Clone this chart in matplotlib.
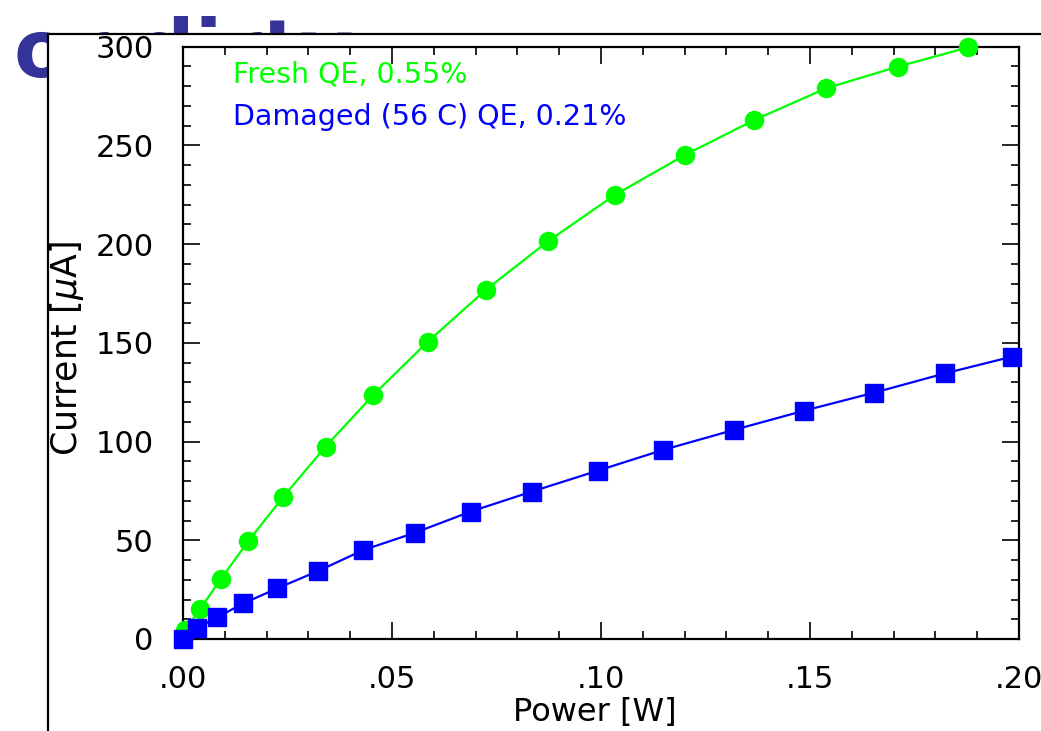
#============================================================
import matplotlib
matplotlib.use("Agg")
import matplotlib.pyplot as plt
from matplotlib.patches import Rectangle
#============================================================
# values
fresh_power = [0.0, 0.0005, 0.0041, 0.0090, 0.0156, 0.0240, 0.0341, 0.0455, 0.0585,
               0.0724, 0.0874, 0.1033, 0.1200, 0.1367, 0.1538, 0.1710, 0.1879]
fresh_current = [0.0, 4.5, 15.2, 30.2, 49.5, 72.0, 97.4, 123.5, 150.4,
                 176.7, 201.5, 224.8, 245.0, 262.8, 278.8, 289.8, 299.6]

damaged_power = [0.0, 0.0033, 0.0082, 0.0144, 0.0226, 0.0323, 0.0431, 0.0555, 0.0688,
                 0.0834, 0.0992, 0.1148, 0.1317, 0.1486, 0.1653, 0.1823, 0.1984]
damaged_current = [0.0, 5.4, 11.0, 18.0, 25.7, 34.4, 45.0, 53.8, 64.5,
                   74.6, 85.2, 95.7, 105.8, 115.6, 124.7, 134.5, 143.0]

x_ticks = [0.0, 0.05, 0.10, 0.15, 0.20]
x_tick_labels = [".00", ".05", ".10", ".15", ".20"]
y_ticks = [0, 50, 100, 150, 200, 250, 300]

fresh_label = "Fresh QE, 0.55%"
damaged_label = "Damaged (56 C) QE, 0.21%"
title_text = "or dirty"
#============================================================
W, H = 1041, 731
fig = plt.figure(figsize=(W / 100, H / 100), dpi=100)
fig.patch.set_facecolor("white")

# slide title sitting behind the pasted plot
fig.text(14 / W, 1 - 77 / H, title_text, color="#333399", fontsize=58,
         fontweight="bold", ha="left", va="baseline", zorder=0.1)

# white pasted image with black left/top border
fig.patches.append(Rectangle((48 / W, -0.2), 1.2, 1 - 34 / H + 0.2,
                             transform=fig.transFigure, facecolor="white",
                             edgecolor="black", linewidth=1.6, zorder=0.5))

ax = fig.add_axes([183 / W, (H - 639) / H, 836 / W, 592.5 / H])
ax.set_zorder(1)

ax.plot(fresh_power, fresh_current, color="#00ff00", linewidth=1.6,
        marker="o", markersize=13, clip_on=False, zorder=3)
ax.plot(damaged_power, damaged_current, color="#0000ff", linewidth=1.6,
        marker="s", markersize=13.5, clip_on=False, zorder=4)

ax.set_xlim(0, 0.2)
ax.set_ylim(0, 300)
ax.set_xticks(x_ticks, x_tick_labels)
ax.set_yticks(y_ticks)
ax.set_xticks([i * 0.01 for i in range(21)], minor=True)
ax.set_yticks(list(range(0, 301, 10)), minor=True)

ax.tick_params(which="both", direction="in", top=True, right=True, width=1.2)
ax.tick_params(which="major", length=12)
ax.tick_params(which="minor", length=6)
ax.tick_params(axis="x", which="major", labelsize=22, pad=19)
ax.tick_params(axis="y", which="major", labelsize=22, pad=21)
for s in ax.spines.values():
    s.set_linewidth(1.6)

ax.set_xlabel("Power [W]", fontsize=23)
ax.xaxis.label.set_va("center")
ax.xaxis.set_label_coords((595 - 183) / 836, -(713 - 639) / 592.5)
ax.set_ylabel(r"Current [$\mu$A]", fontsize=25)
ax.yaxis.label.set_va("center")
ax.yaxis.set_label_coords(-(183 - 67) / 836, 0.49)

ax.text(0.0598, 0.952, fresh_label, transform=ax.transAxes, color="#00ff00",
        fontsize=20.5, va="center", ha="left")
ax.text(0.0598, 0.881, damaged_label, transform=ax.transAxes, color="#0000ff",
        fontsize=20.5, va="center", ha="left")

fig.savefig("out.png", dpi=100)
#============================================================
